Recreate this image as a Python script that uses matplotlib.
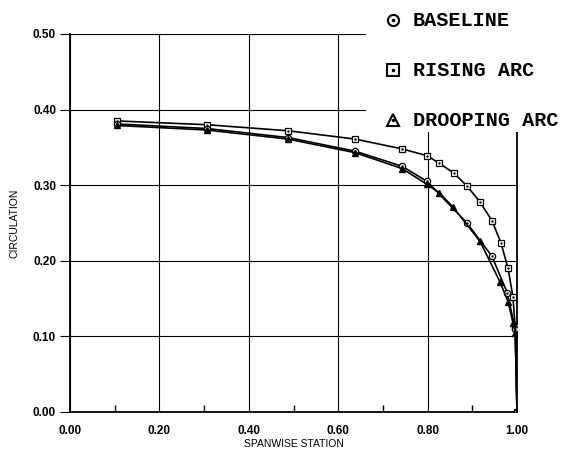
import matplotlib
matplotlib.use("Agg")
import matplotlib.pyplot as plt
from matplotlib.lines import Line2D
from matplotlib.patches import Rectangle
from matplotlib.ticker import MultipleLocator

# ============ DATA ============
rising_x = [0.105, 0.306, 0.488, 0.638, 0.743, 0.799, 0.826, 0.859, 0.888,
            0.917, 0.944, 0.964, 0.980, 0.991, 0.996, 1.0]
rising_y = [0.385, 0.380, 0.372, 0.361, 0.348, 0.339, 0.329, 0.316, 0.299,
            0.278, 0.253, 0.224, 0.190, 0.152, 0.112, 0.0]

baseline_x = [0.105, 0.306, 0.488, 0.638, 0.743, 0.799, 0.888, 0.944,
              0.978, 0.996, 1.0]
baseline_y = [0.381, 0.375, 0.363, 0.345, 0.325, 0.305, 0.250, 0.206,
              0.158, 0.110, 0.0]

drooping_x = [0.105, 0.306, 0.488, 0.638, 0.743, 0.799, 0.826, 0.857,
              0.917, 0.962, 0.980, 0.991, 0.996, 1.0]
drooping_y = [0.379, 0.373, 0.361, 0.343, 0.322, 0.301, 0.290, 0.271,
              0.226, 0.172, 0.146, 0.118, 0.105, 0.0]

legend_labels = ["BASELINE", "RISING ARC", "DROOPING ARC"]
x_ticks = [0.0, 0.2, 0.4, 0.6, 0.8, 1.0]
y_ticks = [0.0, 0.1, 0.2, 0.3, 0.4, 0.5]

W, H = 561, 449
fig = plt.figure(figsize=(W / 100, H / 100), dpi=100)
ax = fig.add_axes([70 / W, 1 - 412 / H, 447 / W, 378 / H])

tick_font = dict(family="Liberation Sans", size=8.5, weight="bold")

# grid
ax.set_xlim(0, 1.0)
ax.set_ylim(0, 0.5)
ax.set_xticks(x_ticks)
ax.set_yticks(y_ticks)
ax.xaxis.set_minor_locator(MultipleLocator(0.1))
ax.grid(True, which="major", color="black", lw=0.8)
ax.set_xticklabels([f"{v:.2f}" for v in x_ticks], fontdict=tick_font)
ax.set_yticklabels([f"{v:.2f}" for v in y_ticks], fontdict=tick_font)
ax.tick_params(axis="x", which="major", length=0, pad=9)
ax.tick_params(axis="x", which="minor", direction="in", length=5, width=1)
ax.tick_params(axis="y", which="major", direction="out", length=7, width=0.8, pad=3)
for side in ["top"]:
    ax.spines[side].set_visible(False)
for side in ["left", "bottom", "right"]:
    ax.spines[side].set_linewidth(1.3)

# curves
ax.plot(rising_x, rising_y, color="black", lw=1.2, marker="s", ms=4,
        mfc="white", mec="black", mew=0.9, zorder=3)
ax.plot(rising_x, rising_y, ls="none", marker=".", ms=1.5, color="black", zorder=4)
ax.plot(baseline_x, baseline_y, color="black", lw=1.2, marker="o", ms=4.5,
        mfc="white", mec="black", mew=0.9, zorder=3)
ax.plot(baseline_x, baseline_y, ls="none", marker=".", ms=1.5, color="black", zorder=4)
ax.plot(drooping_x, drooping_y, color="black", lw=1.2, marker="^", ms=4,
        mfc="black", mec="black", zorder=3)

ax.set_xlabel("SPANWISE STATION", family="Liberation Sans", size=7.5, labelpad=2)
ax.text(-0.125, 0.5, "CIRCULATION", transform=ax.transAxes, rotation=90,
        ha="center", va="center", family="Liberation Sans", size=7.5)

# white legend area covering the grid top-right
fig.add_artist(Rectangle((366 / W, 1 - 132 / H), 1, 1, transform=fig.transFigure,
                         facecolor="white", edgecolor="none", zorder=5))

leg_y = [20, 70, 120]
leg_markers = ["o", "s", "^"]
for lab, yy, mk in zip(legend_labels, leg_y, leg_markers):
    fy = 1 - yy / H
    fig.add_artist(Line2D([393 / W], [fy], marker=mk, ms=8, mfc="white",
                          mec="black", mew=1.5, transform=fig.transFigure, zorder=6))
    fig.add_artist(Line2D([393 / W], [fy], marker=".", ms=3, color="black",
                          transform=fig.transFigure, zorder=7))
    fig.text(413 / W, fy, lab, family="Liberation Mono", weight="bold",
             size=14.5, va="center", ha="left", zorder=7)

fig.savefig("out.png", dpi=100)
